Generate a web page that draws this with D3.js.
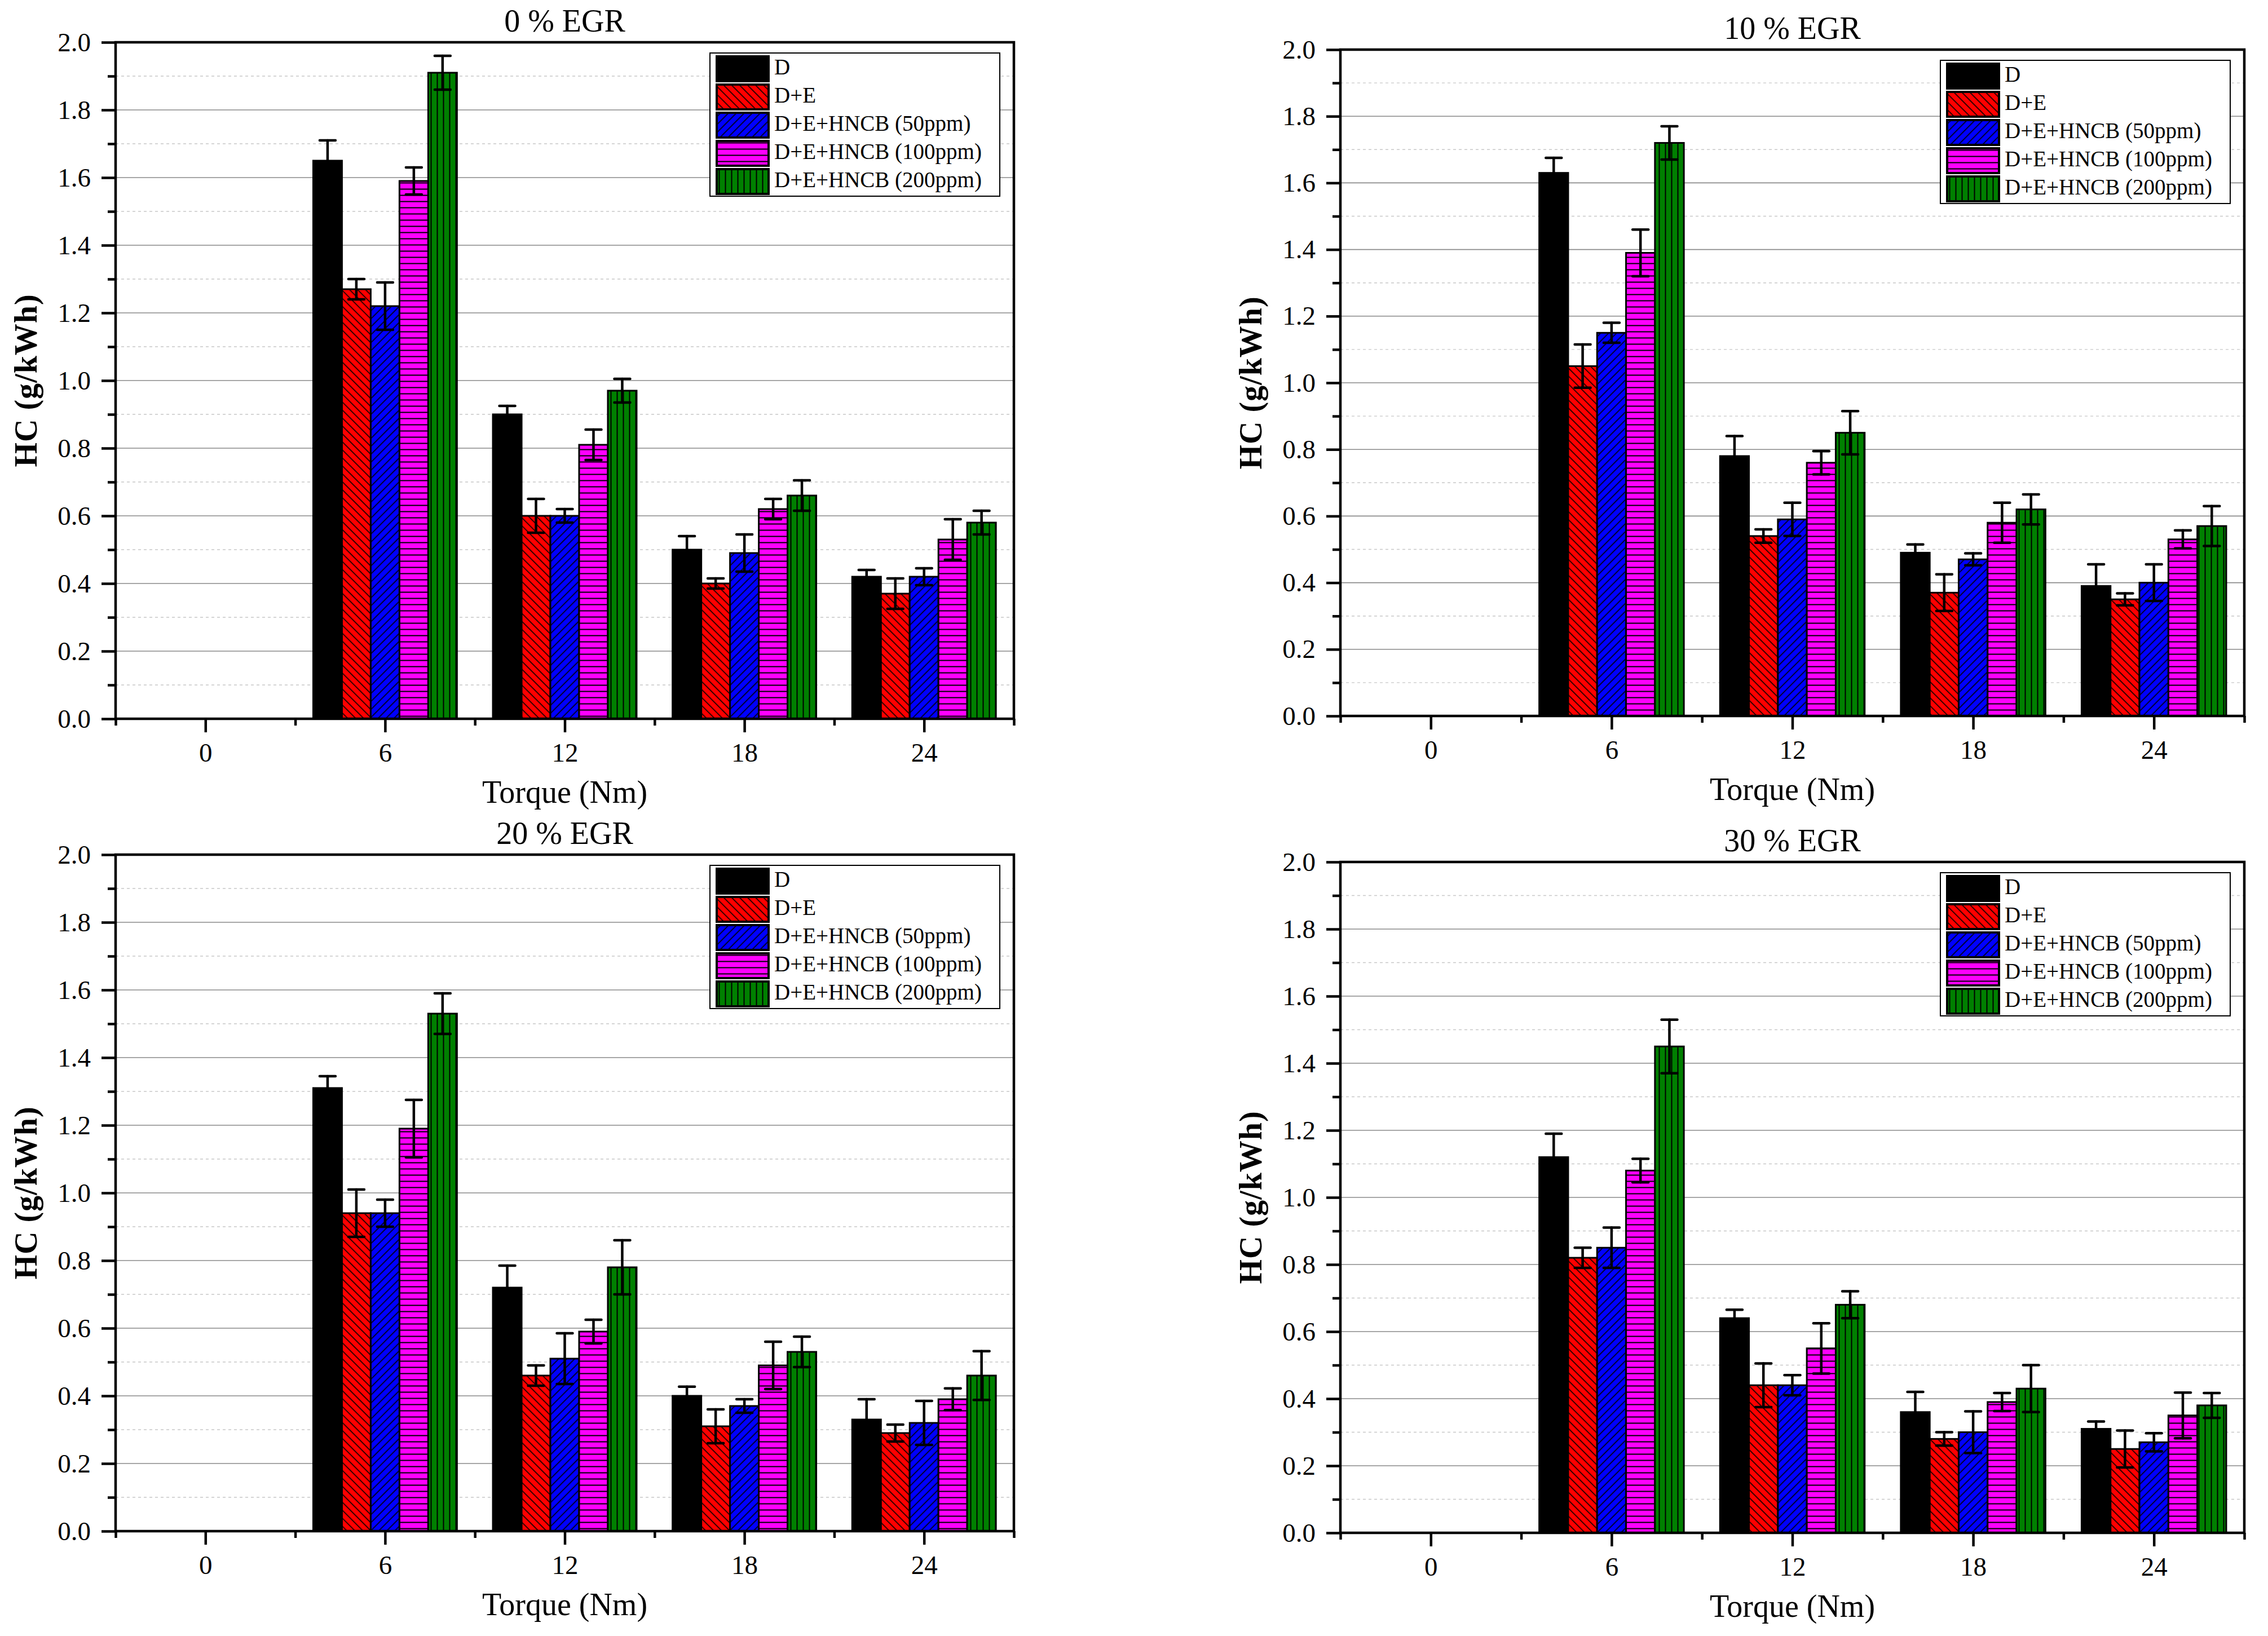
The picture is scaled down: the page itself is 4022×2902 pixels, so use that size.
<!DOCTYPE html>
<html>
<head>
<meta charset="utf-8">
<script src="https://cdn.jsdelivr.net/npm/d3@7"></script>
<style>
  body { margin: 0; background: #fff; }
  svg { display: block; }
  text { font-family: "Liberation Serif", "Times New Roman", serif; fill: #000; }
</style>
</head>
<body>
<div id="chart"></div>
<script>
// ---- data ----
const torque = [6, 12, 18, 24];
const tickLabels = [0, 6, 12, 18, 24];
const seriesNames = ["D", "D+E", "D+E+HNCB (50ppm)", "D+E+HNCB (100ppm)", "D+E+HNCB (200ppm)"];
const seriesColors = ["#000000", "#ff0000", "#0000ff", "#ff00ff", "#008000"];
const panelTitles = ["0 % EGR", "10 % EGR", "20 % EGR", "30 % EGR"];

// HC (g/kWh): one row per series, columns follow torque
const hcEgr0 = [
    [1.65, 0.90, 0.50, 0.42],
    [1.27, 0.60, 0.40, 0.37],
    [1.22, 0.60, 0.49, 0.42],
    [1.59, 0.81, 0.62, 0.53],
    [1.91, 0.97, 0.66, 0.58]
];
const errEgr0 = [
    [0.06, 0.025, 0.04, 0.02],
    [0.03, 0.05, 0.015, 0.045],
    [0.07, 0.02, 0.055, 0.025],
    [0.04, 0.045, 0.03, 0.06],
    [0.05, 0.035, 0.045, 0.035]
];
const hcEgr10 = [
    [1.63, 0.78, 0.49, 0.39],
    [1.05, 0.54, 0.37, 0.35],
    [1.15, 0.59, 0.47, 0.40],
    [1.39, 0.76, 0.58, 0.53],
    [1.72, 0.85, 0.62, 0.57]
];
const errEgr10 = [
    [0.045, 0.06, 0.025, 0.065],
    [0.065, 0.02, 0.055, 0.018],
    [0.03, 0.05, 0.018, 0.055],
    [0.07, 0.035, 0.06, 0.027],
    [0.05, 0.065, 0.045, 0.06]
];
const hcEgr20 = [
    [1.31, 0.72, 0.40, 0.33],
    [0.94, 0.46, 0.31, 0.29],
    [0.94, 0.51, 0.37, 0.32],
    [1.19, 0.59, 0.49, 0.39],
    [1.53, 0.78, 0.53, 0.46]
];
const errEgr20 = [
    [0.035, 0.065, 0.027, 0.06],
    [0.07, 0.03, 0.05, 0.025],
    [0.04, 0.075, 0.02, 0.065],
    [0.085, 0.035, 0.07, 0.032],
    [0.06, 0.08, 0.045, 0.072]
];
const hcEgr30 = [
    [1.12, 0.64, 0.36, 0.31],
    [0.82, 0.44, 0.28, 0.25],
    [0.85, 0.44, 0.30, 0.27],
    [1.08, 0.55, 0.39, 0.35],
    [1.45, 0.68, 0.43, 0.38]
];
const errEgr30 = [
    [0.07, 0.025, 0.06, 0.022],
    [0.03, 0.065, 0.02, 0.055],
    [0.06, 0.03, 0.062, 0.027],
    [0.035, 0.075, 0.027, 0.068],
    [0.08, 0.04, 0.07, 0.037]
];

const panelValues = [hcEgr0, hcEgr10, hcEgr20, hcEgr30];
const panelErrors = [errEgr0, errEgr10, errEgr20, errEgr30];

// ---- layout ----
const W = 4022, H = 2902;
const layout = [
    { left: 205, top: 75, right: 1798, bottom: 1275 },
    { left: 2377, top: 88, right: 3980, bottom: 1270 },
    { left: 205, top: 1516, right: 1798, bottom: 2716 },
    { left: 2377, top: 1529, right: 3980, bottom: 2719 }
];
const serif = "'Liberation Serif', 'Times New Roman', serif";

const svg = d3.select("#chart").append("svg")
    .attr("width", W)
    .attr("height", H);

svg.append("rect").attr("width", W).attr("height", H).attr("fill", "#fff");

// hatch patterns
const defs = svg.append("defs");
function addPattern(id, color, size, angle, lineWidth) {
    const p = defs.append("pattern")
        .attr("id", id)
        .attr("patternUnits", "userSpaceOnUse")
        .attr("width", size)
        .attr("height", size)
        .attr("patternTransform", `rotate(${angle})`);
    p.append("rect").attr("width", size).attr("height", size).attr("fill", color);
    p.append("line")
        .attr("x1", size / 2).attr("y1", -1)
        .attr("x2", size / 2).attr("y2", size + 1)
        .attr("stroke", "#000")
        .attr("stroke-width", lineWidth);
}
addPattern("pat1", seriesColors[1], 10, -45, 1.6);
addPattern("pat2", seriesColors[2], 10, 45, 1.6);
addPattern("pat3", seriesColors[3], 11, 90, 2);
addPattern("pat4", seriesColors[4], 11, 0, 2);

const fillFor = i => i === 0 ? seriesColors[0] : `url(#pat${i})`;

function drawPanel(idx) {
    const L = layout[idx];
    const values = panelValues[idx];
    const errors = panelErrors[idx];

    const x = d3.scaleLinear().domain([-3, 27]).range([L.left, L.right]);
    const y = d3.scaleLinear().domain([0, 2]).range([L.bottom, L.top]);

    const g = svg.append("g");

    // grid
    const gridVals = d3.range(1, 20);
    g.selectAll(".grid")
        .data(gridVals)
        .enter().append("line")
        .attr("x1", L.left).attr("x2", L.right)
        .attr("y1", d => y(d / 10)).attr("y2", d => y(d / 10))
        .attr("stroke", d => d % 2 === 0 ? "#8a8a8a" : "#c8c8c8")
        .attr("stroke-width", d => d % 2 === 0 ? 1.6 : 1.4)
        .attr("stroke-dasharray", d => d % 2 === 0 ? null : "5,5");

    // bars
    const groupW = 4.8;
    const barW = groupW / seriesNames.length;
    const rows = [];
    values.forEach((row, s) => row.forEach((v, c) => {
        rows.push({ s: s, t: torque[c], v: v, e: errors[s][c] });
    }));

    g.selectAll(".bar")
        .data(rows)
        .enter().append("rect")
        .attr("x", d => x(d.t - groupW / 2 + d.s * barW))
        .attr("y", d => y(d.v))
        .attr("width", x(barW) - x(0))
        .attr("height", d => y(0) - y(d.v))
        .attr("fill", d => fillFor(d.s))
        .attr("stroke", "#000")
        .attr("stroke-width", 3);

    // error bars
    const capW = 28;
    const eb = g.selectAll(".err")
        .data(rows)
        .enter().append("g")
        .attr("stroke", "#000")
        .attr("stroke-width", 4.5)
        .attr("stroke-linecap", "round");
    const cx = d => x(d.t - groupW / 2 + (d.s + 0.5) * barW);
    eb.append("line")
        .attr("x1", cx).attr("x2", cx)
        .attr("y1", d => y(d.v + d.e)).attr("y2", d => y(d.v - d.e));
    eb.append("line")
        .attr("x1", d => cx(d) - capW / 2).attr("x2", d => cx(d) + capW / 2)
        .attr("y1", d => y(d.v + d.e)).attr("y2", d => y(d.v + d.e));
    eb.append("line")
        .attr("x1", d => cx(d) - capW / 2).attr("x2", d => cx(d) + capW / 2)
        .attr("y1", d => y(d.v - d.e)).attr("y2", d => y(d.v - d.e));

    // frame
    g.append("rect")
        .attr("x", L.left).attr("y", L.top)
        .attr("width", L.right - L.left).attr("height", L.bottom - L.top)
        .attr("fill", "none")
        .attr("stroke", "#000")
        .attr("stroke-width", 4.5);

    // axes
    const styleAxis = sel => {
        sel.attr("font-family", null);
        sel.select(".domain").remove();
        sel.selectAll(".tick line").attr("stroke", "#000").attr("stroke-width", 4.5);
        sel.selectAll(".tick text")
            .style("font-family", serif)
            .style("font-size", "47px")
            .attr("fill", "#000");
    };

    g.append("g")
        .attr("transform", `translate(0,${L.bottom})`)
        .call(d3.axisBottom(x).tickValues([-3, 3, 9, 15, 21, 27]).tickSize(12).tickFormat(""))
        .call(styleAxis);
    g.append("g")
        .attr("transform", `translate(0,${L.bottom})`)
        .call(d3.axisBottom(x).tickValues(tickLabels).tickSize(24).tickPadding(19).tickFormat(d3.format("d")))
        .call(styleAxis);

    g.append("g")
        .attr("transform", `translate(${L.left},0)`)
        .call(d3.axisLeft(y).tickValues(d3.range(1, 20, 2).map(k => k / 10)).tickSize(14).tickFormat(""))
        .call(styleAxis);
    g.append("g")
        .attr("transform", `translate(${L.left},0)`)
        .call(d3.axisLeft(y).tickValues(d3.range(0, 21, 2).map(k => k / 10)).tickSize(25).tickPadding(19).tickFormat(d3.format(".1f")))
        .call(styleAxis);

    // titles
    const midX = (L.left + L.right) / 2;
    g.append("text")
        .attr("x", midX).attr("y", L.top - 32)
        .attr("text-anchor", "middle")
        .attr("dominant-baseline", "middle")
        .style("font-family", serif)
        .style("font-size", "56px")
        .text(panelTitles[idx]);

    g.append("text")
        .attr("x", midX).attr("y", L.bottom + 136)
        .attr("text-anchor", "middle")
        .attr("dominant-baseline", "middle")
        .style("font-family", serif)
        .style("font-size", "56px")
        .text("Torque (Nm)");

    g.append("text")
        .attr("transform", `translate(${L.left - 153},${(L.top + L.bottom) / 2}) rotate(-90)`)
        .attr("text-anchor", "middle")
        .attr("dominant-baseline", "middle")
        .style("font-family", serif)
        .style("font-size", "56px")
        .style("font-weight", "bold")
        .style("letter-spacing", "1px")
        .text("HC (g/kWh)");

    // legend
    const legW = 514, legH = 254;
    const lx = L.right - 25 - legW, ly = L.top + 19;
    const leg = g.append("g").attr("transform", `translate(${lx},${ly})`);
    leg.append("rect")
        .attr("width", legW).attr("height", legH)
        .attr("fill", "#fff")
        .attr("stroke", "#000")
        .attr("stroke-width", 2);
    const item = leg.selectAll(".item")
        .data(seriesNames)
        .enter().append("g")
        .attr("transform", (d, i) => `translate(0,${4 + i * 50})`);
    item.append("rect")
        .attr("x", 12).attr("y", 2)
        .attr("width", 92).attr("height", 44)
        .attr("fill", (d, i) => fillFor(i))
        .attr("stroke", "#000")
        .attr("stroke-width", 4);
    item.append("text")
        .attr("x", 114).attr("y", 25)
        .attr("dominant-baseline", "middle")
        .style("font-family", serif)
        .style("font-size", "39px")
        .text(d => d);
}

[0, 1, 2, 3].forEach(drawPanel);
</script>
</body>
</html>
